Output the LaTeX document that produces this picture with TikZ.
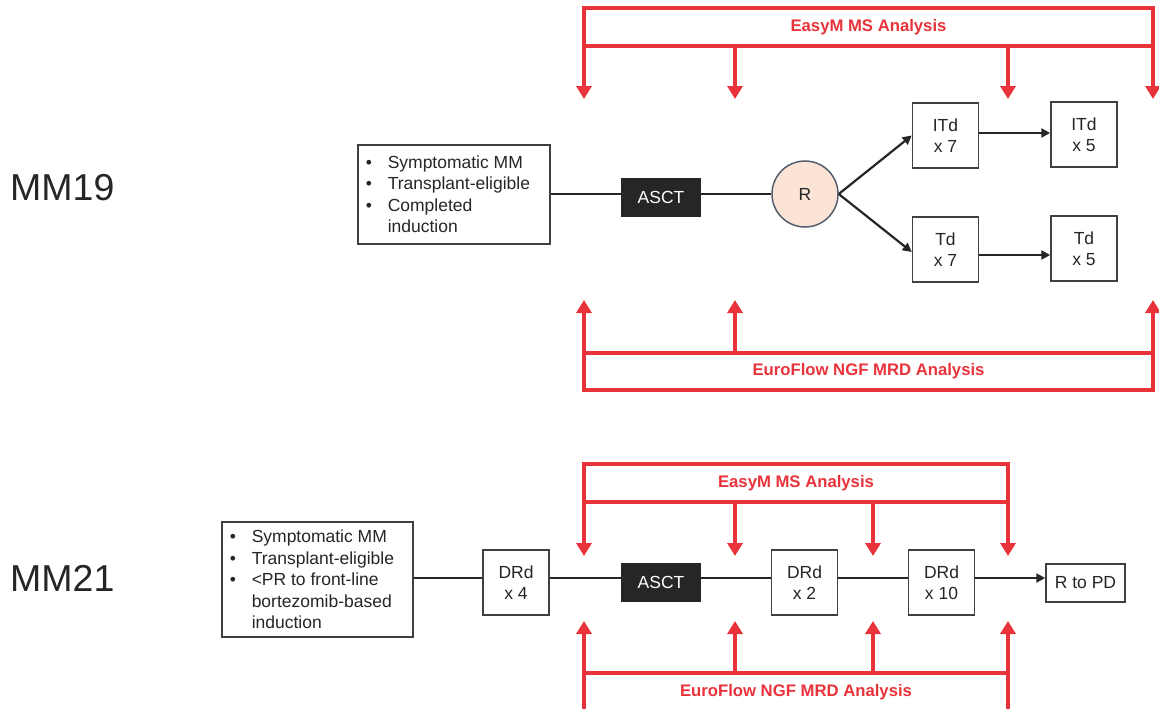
\documentclass[tikz,border=0pt]{standalone}
\usepackage{fontspec}
\setmainfont{Liberation Sans}
\usetikzlibrary{arrows.meta}
\definecolor{rd}{RGB}{233,51,58}
\definecolor{ink}{RGB}{38,38,38}
\definecolor{boxline}{RGB}{64,64,64}
\definecolor{peach}{RGB}{251,227,214}
\definecolor{circline}{RGB}{85,95,110}
\newcommand{\bul}{\makebox[22pt][l]{\textbullet}}
\begin{document}
\begin{tikzpicture}[x=1pt,y=-1pt,
  txt/.style={font=\fontsize{17.5}{21.5}\selectfont, text=ink},
  redbox/.style={draw=rd, line width=4.5pt, fill=white, inner sep=0pt, outer sep=0pt,
    font=\fontsize{16.7}{20}\selectfont\bfseries, text=rd},
  redarrow/.style={draw=rd, line width=4.5pt, -{Triangle[width=15pt,length=13pt]}},
  critbox/.style={txt, draw=boxline, line width=1.5pt, fill=white, align=flush left,
    anchor=north west, inner xsep=8pt, inner ysep=0pt},
  tbox/.style={txt, draw=boxline, line width=1.5pt, fill=white, align=center,
    minimum width=66pt, minimum height=65pt, inner sep=0pt},
  asct/.style={txt, fill=ink, text=white, minimum width=80pt, minimum height=39pt, inner sep=0pt},
  conn/.style={draw=ink, line width=2.2pt},
  carrow/.style={draw=ink, line width=2.2pt, -{Triangle[width=9pt,length=9pt]}},
  lbl/.style={font=\fontsize{37.5}{40}\selectfont, text=ink, anchor=west, inner sep=0pt}
]
\useasboundingbox (0,0) rectangle (1159,709);
\clip (0,0) rectangle (1159,709);
\fill[white] (0,0) rectangle (1159,709);

% ---------------- MM19 ----------------
\node[lbl] (l19) at (10,188) {MM19};

\node[critbox, text width=176pt, minimum height=99pt] (c19) at (357,144)
  {\bul Symptomatic MM\\ \bul Transplant-eligible\\ \bul Completed\\ \hspace*{22pt}induction};
\node[asct] (a19) at (661,197.5) {ASCT};
\node[circle, draw=circline, line width=1.5pt, fill=peach, minimum size=66pt, inner sep=0pt, txt] (r19) at (805,194) {R};
\node[tbox] (itd7) at (945.5,135.5) {ITd\\x 7};
\node[tbox] (itd5) at (1084,134.5) {ITd\\x 5};
\node[tbox] (td7) at (945.5,249.5) {Td\\x 7};
\node[tbox] (td5) at (1084,248.5) {Td\\x 5};

\draw[conn] (c19.east |- r19.west) -- (a19.west |- r19.west);
\draw[conn] (a19.east |- r19.west) -- (r19.west);
\draw[carrow] (r19.east) -- (itd7.west);
\draw[carrow] (r19.east) -- (td7.west |- 0,252);
\draw[carrow] (itd7.east |- 0,133) -- (itd5.west |- 0,133);
\draw[carrow] (td7.east |- 0,255) -- (td5.west |- 0,255);

% red MS analysis (MM19)
\node[redbox, minimum width=569pt, minimum height=38pt] (ms19) at (868.5,27) {EasyM MS Analysis};
\coordinate (ms19a) at (584,99);
\coordinate (ms19b) at (735,99);
\coordinate (ms19c) at (1008,99);
\coordinate (ms19d) at (1153,99);
\draw[redarrow] (ms19.south west) -- (ms19a);
\draw[redarrow] (ms19.south -| ms19b) -- (ms19b);
\draw[redarrow] (ms19.south -| ms19c) -- (ms19c);
\draw[redarrow] (ms19.south east) -- (ms19d);

% red MRD analysis (MM19)
\node[redbox, minimum width=569pt, minimum height=37pt] (mrd19) at (868.5,371.5) {EuroFlow NGF MRD Analysis};
\coordinate (mrd19a) at (584,300);
\coordinate (mrd19b) at (735,300);
\coordinate (mrd19d) at (1153,300);
\draw[redarrow] (mrd19.north west) -- (mrd19a);
\draw[redarrow] (mrd19.north -| mrd19b) -- (mrd19b);
\draw[redarrow] (mrd19.north east) -- (mrd19d);

% ---------------- MM21 ----------------
\node[lbl] (l21) at (10,578) {MM21};

\node[critbox, text width=175pt, minimum height=115pt] (c21) at (221,521)
  {\bul Symptomatic MM\\ \bul Transplant-eligible\\ \bul <PR to front-line\\ \hspace*{22pt}bortezomib-based\\ \hspace*{22pt}induction};
\node[tbox] (drd4) at (516,582.5) {DRd\\x 4};
\node[asct] (a21) at (661,582.5) {ASCT};
\node[tbox] (drd2) at (804.5,582.5) {DRd\\x 2};
\node[tbox] (drd10) at (941.5,582.5) {DRd\\x 10};
\node[txt, draw=boxline, line width=1.5pt, fill=white, minimum width=79pt, minimum height=38pt, inner sep=0pt] (rpd) at (1085.5,583) {R to PD};

\draw[conn] (c21.east |- 0,578) -- (drd4.west |- 0,578);
\draw[conn] (drd4.east |- 0,578) -- (a21.west |- 0,578);
\draw[conn] (a21.east |- 0,578) -- (drd2.west |- 0,578);
\draw[conn] (drd2.east |- 0,578) -- (drd10.west |- 0,578);
\draw[carrow] (drd10.east |- 0,578) -- (rpd.west |- 0,578);

% red MS analysis (MM21)
\node[redbox, minimum width=424pt, minimum height=38pt] (ms21) at (796,483) {EasyM MS Analysis};
\coordinate (ms21a) at (584,556);
\coordinate (ms21b) at (735,556);
\coordinate (ms21c) at (873,556);
\coordinate (ms21d) at (1008,556);
\draw[redarrow] (ms21.south west) -- (ms21a);
\draw[redarrow] (ms21.south -| ms21b) -- (ms21b);
\draw[redarrow] (ms21.south -| ms21c) -- (ms21c);
\draw[redarrow] (ms21.south east) -- (ms21d);

% red MRD analysis (MM21)
\node[redbox, minimum width=424pt, minimum height=39pt] (mrd21) at (796,692.5) {EuroFlow NGF MRD Analysis};
\coordinate (mrd21a) at (584,621);
\coordinate (mrd21b) at (735,621);
\coordinate (mrd21c) at (873,621);
\coordinate (mrd21d) at (1008,621);
\draw[redarrow] (mrd21.north west) -- (mrd21a);
\draw[redarrow] (mrd21.north -| mrd21b) -- (mrd21b);
\draw[redarrow] (mrd21.north -| mrd21c) -- (mrd21c);
\draw[redarrow] (mrd21.north east) -- (mrd21d);
\end{tikzpicture}
\end{document}
